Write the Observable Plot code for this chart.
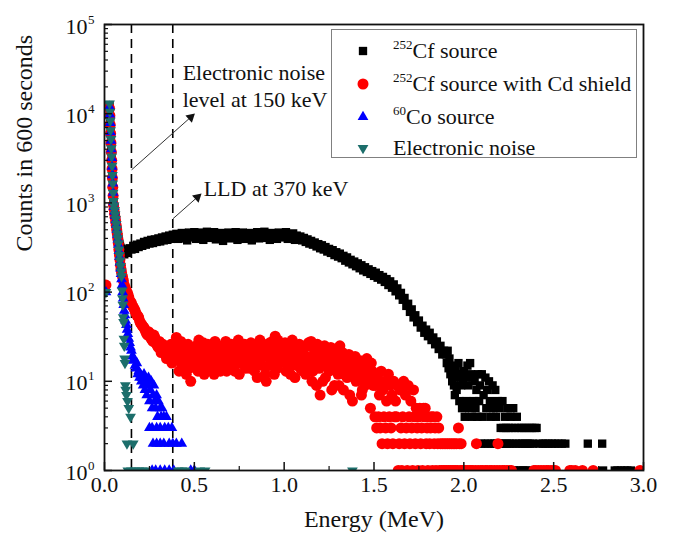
<!DOCTYPE html>
<html><head><meta charset="utf-8">
<script src="https://cdn.jsdelivr.net/npm/d3@7"></script>
<script src="https://cdn.jsdelivr.net/npm/@observablehq/plot@0.6"></script>
<style>
body{margin:0;background:#fff;}
#wrap{position:relative;width:673px;height:543px;font-family:'Liberation Serif','DejaVu Serif',serif;}
#legend{position:absolute;left:331px;top:29px;width:306px;height:129px;border:1px solid #808080;box-sizing:border-box;background:#fff;}
.row{position:absolute;left:0;height:30px;width:300px;}
.row svg{position:absolute;left:21px;top:5px;}
.row span{position:absolute;left:61px;top:0;font-size:22px;line-height:30px;white-space:nowrap;color:#111;font-family:'Liberation Serif','DejaVu Serif',serif;}
.row sup{font-size:13px;vertical-align:9px;line-height:0;}
svg text{font-family:'Liberation Serif','DejaVu Serif',serif;}
</style></head>
<body><div id="wrap"><div id="chart"></div><div id="legend"></div></div>
<script>
// ---------- data ----------
const seriesNames = ["252Cf source", "252Cf source with Cd shield", "60Co source", "Electronic noise"];
const seriesColors = ["#000000", "#ff0000", "#0000ff", "#1c6e6b"];

// shared energy channels of the steep low-energy region (MeV)
const steepE = [0.028,0.030,0.032,0.034,0.036,0.038,0.040,0.042,0.044,0.046,0.048,0.050,0.053,0.056,0.059,0.062,0.065,0.068,0.071,0.074,0.077,0.080,0.083,0.086,0.089,0.092,0.095];

// 252Cf source
const cfSteep = [12500,10000,8000,6300,5000,4000,3200,2500,2000,1600,1250,1000,900,820,740,670,600,540,490,450,410,380,350,330,315,305,300];
const cfStart = 0.10, cfStep = 0.01;
const cfCounts = [
 300,265,285,275,310,300,330,305,340,320,
 350,330,365,340,375,350,385,355,390,365,
 400,370,410,380,420,385,430,395,440,400,
 450,395,430,460,400,445,380,465,410,440,
 470,395,450,420,465,385,440,475,405,455,
 430,470,390,450,415,460,375,445,420,465,
 400,455,430,470,385,445,410,465,395,450,
 425,460,380,450,415,470,400,445,430,475,
 405,455,385,460,420,440,395,465,410,450,
 430,470,395,445,410,455,385,430,400,420,
 380,405,365,390,350,375,340,360,325,345,
 310,335,300,320,285,305,275,295,260,280,
 250,270,240,255,225,245,215,230,205,220,
 195,210,185,200,175,190,168,180,160,172,
 152,165,145,155,138,148,130,140,120,132,
 112,122,102,110,92,98,82,86,70,74,
 60,64,52,55,46,48,40,42,35,38,
 32,35,29,31,26,28,23,25,20,22];
const cfTailStart = 1.90, tailStep = 0.005;
const cfTail = [
 20,16,22,14,18,12,15,10,13,9,
 7,14,8,11,16,6,12,9,5,10,
 13,4,11,6,15,9,5,16,12,4,
 11,6,10,5,8,4,12,6,9,2,
 12,4,7,2,11,5,8,2,10,6,
 4,2,9,5,2,8,4,2,6,2,
 5,3,2,6,3,2,4,3,2,5,
 3,2,4,3,2,5,1,3,2,4,
 1,3,2,1,3,2,1,3,2,1,
 3,2,1,3,2,0,3,2,0,3,
 0,3,0,0,2,0,0,0,2,0,
 0,2,0,0,2,0,0,0,2,0,
 0,2,0,0,0,2,0,0,0,2,
 0,0,0,2,0,0,0,0,0,1,
 0,1,0,0,0,0,0,0,0,0,
 0,0,0,0,0,0,0,0,2,0,
 0,0,0,0,0,0,0,0,0,0,
 0,0,0,0,2,1,0,0,0,0,
 0,0,0,0,0,0,0,0,1,0,
 0,1,0,0,0,1,0,0,0,1,
 0,0,1,0,0,0,1,0,0,0];

// 252Cf source with Cd shield
const cdSteep = [11500,9500,7500,6000,4700,3700,3000,2400,1900,1500,1200,950,850,760,690,620,560,500,450,400,350,300,260,230,200,180,165];
const cdStart = 0.10, cdStep = 0.01;
const cdCounts = [
 150,120,105,95,80,75,68,62,55,52,
 45,42,40,36,33,35,30,28,31,26,
 24,27,22,25,20,23,19,26,17,21,
 31,18,22,15,24,17,20,14,10,22,
 18,25,13,21,16,27,19,14,23,17,
 20,12,26,18,22,15,24,19,13,21,
 17,23,14,25,19,12,22,16,26,18,
 21,14,24,17,20,11,25,18,15,22,
 10,19,27,16,23,32,14,21,17,25,
 18,13,26,20,15,23,11,19,24,14,
 21,16,12,25,18,28,13,20,9,17,
 7,22,15,11,19,13,24,16,9,18,
 12,25,14,8,17,11,20,13,6,15,
 10,16,12,7,14,9,18,11,5,13];
// interleaved half-channels (0.105, 0.115, ...)
const cdStart2 = 0.105;
const cdCounts2 = [
 135,112,100,88,78,70,65,58,54,48,
 44,41,38,34,36,32,29,33,27,25,
 28,21,26,23,18,24,21,16,25,19,
 23,13,28,19,16,12,26,20,17,15,
 24,19,29,15,22,12,17,26,20,14,
 18,28,16,21,13,25,17,28,22,16,
 26,19,13,21,29,16,24,20,14,23,
 17,27,19,13,23,16,29,20,26,12,
 22,15,18,28,12,20,29,16,23,19,
 27,16,21,12,29,17,22,15,26,19,
 13,24,19,27,15,10,23,17,26,14,
 20,10,25,17,14,21,8,19,15,22,
 9,16,21,12,18,14,7,17,12,19,
 14,11,17,8,13,15,10,12,16,9];
const cdTailStart = 1.50;
const cdTail = [
 12,4,9,3,11,4,7,3,13,2,
 8,4,10,3,6,2,12,4,9,3,
 7,2,10,4,6,4,9,1,2,8,
 3,1,4,10,2,7,3,1,9,4,
 2,6,3,1,8,4,2,5,3,1,
 4,5,2,3,1,5,4,5,2,3,
 1,4,2,3,4,1,4,2,3,1,
 4,2,3,1,2,1,2,1,2,1,
 2,1,2,1,2,1,2,1,2,1,
 2,1,2,1,3,2,1,2,1,0,
 1,0,1,0,1,0,1,0,1,0,
 1,0,0,1,2,0,1,0,0,1,
 0,1,0,0,1,0,1,0,0,1,
 0,1,0,0,1,0,0,1,2,0,
 1,0,0,1,0,1,0,0,1,0,
 0,1,0,1,0,0,0,0,0,0,
 0,0,0,0,0,0,0,0,0,0,
 0,0,0,0,0,0,0,0,1,0,
 1,0,0,1,0,0,1,0,0,1,
 0,0,1,0,1,0,0,1,0,0,
 1,0,1,0,0,0,0,0,0,0,
 0,0,0,0,0,0,0,0,1,0,
 1,0,0,0,1,0,0,0,0,0,
 0,0,1,0,0,0,0,0,0,0,
 0,0,0,0,1,0,0,0,0,0];
const cdExtraE = [0.008, 2.98];
const cdExtraC = [120, 1];

// 60Co source
const coSteep = [12000,9800,7900,6200,5000,4000,3200,2550,2050,1650,1300,1020,900,800,720,640,570,500,440,390,340,290,250,215,185,160,140];
const coE = [0.008,
 0.098,0.101,0.104,0.107,0.110,0.114,0.118,0.122,0.126,0.130,0.135,0.140,0.145,0.150,0.155,0.160,0.165,0.170,0.175,0.180,
 0.185,0.190,0.195,0.200,0.205,0.210,0.215,0.220,0.225,0.230,0.235,0.240,0.245,0.250,0.255,0.260,0.265,0.270,0.275,0.280,
 0.285,0.290,0.295,0.300,0.310,0.315,0.320,0.330,0.345,
 0.250,0.265,0.290,0.310,0.335,0.355,0.375,
 0.270,0.290,0.310,0.330,0.360,0.380,0.400,0.430,
 0.265,0.285,0.310,0.335,0.360,0.385,0.480,0.500];
const coC = [100,
 120,100,85,72,62,55,48,43,38,34,30,27,24,22,19,17,18,15,14,16,
 12,13,11,12,10,11,9,12,8,10,7,9,11,6,8,10,5,7,9,6,
 5,7,4,6,5,4,5,4,4,
 3,3,3,3,3,3,3,
 2,2,2,2,2,2,2,2,
 1,1,1,1,1,1,1,1];

// Electronic noise
const noiseSteep = [13000,10500,8300,6500,5200,4100,3300,2600,2050,1650,1300,1050,930,830,740,660,580,510,450,400,350,300,260,225,195,170,150];
const noiseE = [0.008,
 0.098,0.100,0.102,0.104,0.106,0.108,0.110,0.112,0.114,0.116,0.118,0.122,0.128,0.135,0.145,0.125,0.160,
 0.130,0.150,0.170,0.190,0.210,0.230,0.410,0.430,0.450,0.530,0.560,1.380];
const noiseC = [100,
 104,85,72,52,46,30,25,18,16,9,8,7,6,5,4,2,2,
 1,1,1,1,1,1,1,1,1,1,1,1];

// axes, guides, annotations
const xMajor = [0, 0.5, 1.0, 1.5, 2.0, 2.5, 3.0];
const xMinor = [0.25, 0.75, 1.25, 1.75, 2.25, 2.75];
const yMajorExp = [0, 1, 2, 3, 4, 5];
const thresholds = [0.15, 0.38];
const annoText = ["Electronic noise\nlevel at 150 keV", "LLD at 370 keV"];
const annoE = [0.435, 0.552];
const annoC = [21200, 1500];
const arrowE1 = [0.151, 0.381], arrowC1 = [2350, 664];
const arrowE2 = [0.48, 0.517], arrowC2 = [9140, 1160];

// ---------- build tables ----------
const grid = (start, step, counts) => counts.map((c, i) => ({E: +(start + i * step).toFixed(4), c}));
const pairs = (es, cs) => es.map((E, i) => ({E, c: cs[i]}));
const pos = d => d.c > 0;
const cf = [...pairs(steepE, cfSteep), ...grid(cfStart, cfStep, cfCounts), ...grid(cfTailStart, tailStep, cfTail)].filter(pos);
const cd = [...pairs(steepE, cdSteep), ...grid(cdStart, cdStep, cdCounts), ...grid(cdStart2, cdStep, cdCounts2), ...grid(cdTailStart, tailStep, cdTail), ...pairs(cdExtraE, cdExtraC)].filter(pos);
const co = [...pairs(steepE, coSteep), ...pairs(coE, coC)].filter(pos);
const noise = [...pairs(steepE, noiseSteep), ...pairs(noiseE, noiseC)].filter(pos);
const yMajor = yMajorExp.map(e => Math.pow(10, e));
const yMinor = [];
for (const e of [0,1,2,3,4]) for (const m of [2,3,4,5,6,7,8,9]) yMinor.push(m * Math.pow(10, e));
const arrows = arrowE1.map((e, i) => ({x1: e, y1: arrowC1[i], x2: arrowE2[i], y2: arrowC2[i]}));
const annos = annoText.map((t, i) => ({t, E: annoE[i], c: annoC[i]}));

const serif = "'Liberation Serif','DejaVu Serif',serif";
const chart = Plot.plot({
  width: 673, height: 543,
  marginLeft: 104, marginRight: 30, marginTop: 24, marginBottom: 73,
  x: {domain: [0, 3], axis: null},
  y: {type: "log", domain: [1, 1e5], axis: null},
  style: {fontFamily: serif, fontSize: "22px", background: "white", color: "#111", overflow: "visible"},
  marks: [
    Plot.ruleX(thresholds, {stroke: "#000", strokeWidth: 1.6, strokeDasharray: "9,6"}),
    Plot.dot(cf, {x: "E", y: "c", symbol: "square", r: 4.7, fill: seriesColors[0], clip: true}),
    Plot.dot(cd, {x: "E", y: "c", symbol: "circle", r: 5.5, fill: seriesColors[1], clip: true}),
    Plot.dot(co, {x: "E", y: "c", symbol: "triangle", r: 4, fill: seriesColors[2], clip: true}),
    Plot.dot(noise, {x: "E", y: "c", symbol: "triangle", r: 4, rotate: 180, fill: seriesColors[3], clip: true}),
    Plot.link(arrows, {x1: "x1", y1: "y1", x2: "x2", y2: "y2", stroke: "#333", strokeWidth: 1}),
    Plot.dot(arrows, {x: "x2", y: "y2", symbol: "triangle", r: 3.6, rotate: 48, fill: "#111"}),
    Plot.text(annos, {x: "E", y: "c", text: "t", textAnchor: "start", lineHeight: 1.27, fontSize: 22, fill: "#111"}),
    Plot.axisX(xMajor, {anchor: "bottom", tickSize: -8, tickFormat: () => "", label: null, strokeWidth: 1.5}),
    Plot.axisX(xMinor, {anchor: "bottom", tickSize: -4, tickFormat: () => "", label: null, strokeWidth: 1.2}),
    Plot.axisY(yMajor, {anchor: "left", tickSize: -8, tickFormat: () => "", label: null, strokeWidth: 1.5}),
    Plot.axisY(yMinor, {anchor: "left", tickSize: -4, tickFormat: () => "", label: null, strokeWidth: 1.2}),
    Plot.frame({stroke: "#111", strokeWidth: 1.8}),
    Plot.text(xMajor, {x: d => d, frameAnchor: "bottom", dy: 21, text: d => d3.format(".1f")(d), fontSize: 22, fill: "#111"}),
    Plot.text(yMajor, {y: d => d, frameAnchor: "left", dx: -17, dy: 2, textAnchor: "end", text: () => "10", fontSize: 22, fill: "#111"}),
    Plot.text(yMajor, {y: d => d, frameAnchor: "left", dx: -10, dy: -5, textAnchor: "end", text: d => String(Math.round(Math.log10(d))), fontSize: 13, fill: "#111"}),
    Plot.text(["Energy (MeV)"], {frameAnchor: "bottom", dy: 56, text: d => d, fontSize: 24, fill: "#111"}),
    Plot.text(["Counts in 600 seconds"], {frameAnchor: "left", dx: -80, dy: 4, rotate: -90, text: d => d, fontSize: 24, fill: "#111"})
  ]
});
document.getElementById("chart").appendChild(chart);

// ---------- legend ----------
const legendRows = [
  {sup: "252", text: "Cf source", sym: d3.symbolSquare, r: 4.7, rot: 0},
  {sup: "252", text: "Cf source with Cd shield", sym: d3.symbolCircle, r: 5.5, rot: 0},
  {sup: "60", text: "Co source", sym: d3.symbolTriangle, r: 4, rot: 0},
  {sup: "", text: "Electronic noise", sym: d3.symbolTriangle, r: 4, rot: 180}
];
const legendTops = [6, 39, 72, 103];
const leg = d3.select("#legend");
legendRows.forEach((row, i) => {
  const div = leg.append("div").attr("class", "row").style("top", legendTops[i] + "px");
  const svg = div.append("svg").attr("width", 20).attr("height", 20);
  svg.append("path")
    .attr("transform", `translate(10,10) rotate(${row.rot})`)
    .attr("d", d3.symbol(row.sym, Math.PI * row.r * row.r)())
    .attr("fill", seriesColors[i]);
  const span = div.append("span");
  if (row.sup) span.append("sup").text(row.sup);
  span.append("span").style("position", "static").style("font-size", "22px").text(row.text);
});
</script>
</body></html>
